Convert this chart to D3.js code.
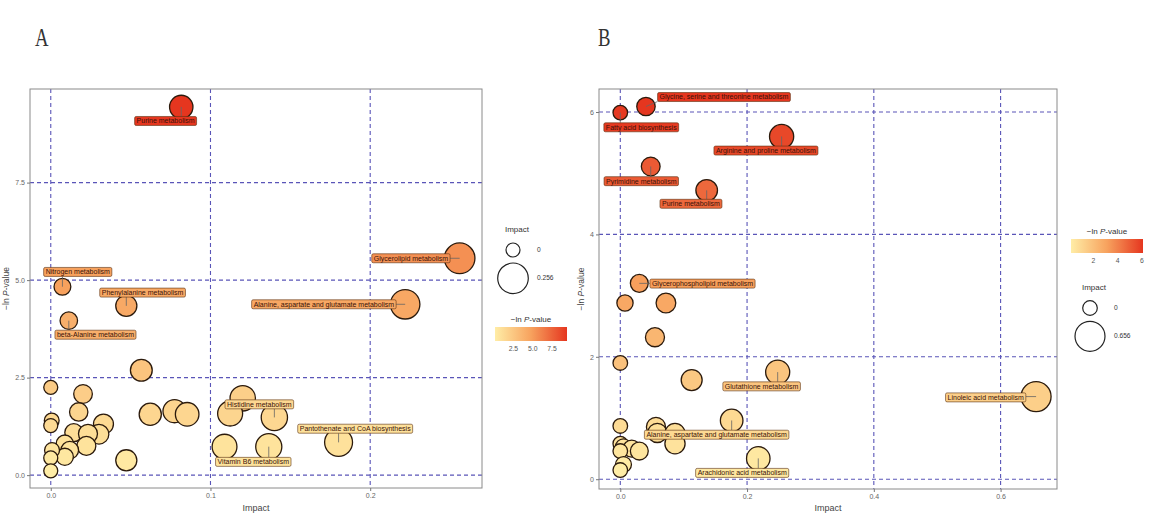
<!DOCTYPE html>
<html>
<head>
<meta charset="utf-8">
<script src="https://cdn.jsdelivr.net/npm/d3@7"></script>
<style>
body { margin:0; background:#fff; }
svg { font-family:"Liberation Sans", Arial, sans-serif; }
</style>
</head>
<body>
<svg width="1153" height="530"></svg>
<script>
// panel A : pathway name ("" = not labelled), impact, -ln P
var namesA = ["Purine metabolism","Nitrogen metabolism","Phenylalanine metabolism","beta-Alanine metabolism",
  "Glycerolipid metabolism","Alanine, aspartate and glutamate metabolism","","","","","","","","","","","","",
  "","","","","","","","","","","","Histidine metabolism","","Vitamin B6 metabolism","Pantothenate and CoA biosynthesis"]
var impactA = [0.0817,0.0073,0.0473,0.0113,0.256,0.2219,0.0567,0,0.0202,0.0175,0.0006,0,0.033,0.0302,0.0144,0.0233,0.0223,0.0088,
  0.0119,0.0088,0.0008,0,0,0.0473,0.0623,0.0775,0.0854,0.1202,0.1123,0.140,0.1088,0.1365,0.1802]
var lnpA = [9.44,4.83,4.34,3.96,5.56,4.38,2.69,2.25,2.08,1.62,1.40,1.27,1.31,1.05,1.09,1.06,0.75,0.81,
  0.64,0.47,0.64,0.44,0.11,0.38,1.56,1.64,1.56,1.97,1.58,1.48,0.73,0.73,0.84]
var xTicksA = [0,0.1,0.2]
var yTicksA = [0,2.5,5,7.5]
var barTicksA = [2.5,5,7.5]

// panel B
var namesB = ["Glycine, serine and threonine metabolism","Fatty acid biosynthesis","Arginine and proline metabolism",
  "Pyrimidine metabolism","Purine metabolism","Glycerophospholipid metabolism","","","","","","Glutathione metabolism",
  "Alanine, aspartate and glutamate metabolism","","","","","","","","","","","","","Arachidonic acid metabolism","Linoleic acid metabolism"]
var impactB = [0.0405,0,0.2545,0.048,0.1363,0.030,0.0074,0.072,0.0547,0,0.1126,0.2483,0.1757,0.0563,0.0584,0.0863,0.0863,
  0,0,0.005,0.018,0.030,0,0.005,0,0.2177,0.656]
var lnpB = [6.09,5.99,5.60,5.11,4.72,3.20,2.88,2.88,2.32,1.90,1.62,1.75,0.96,0.855,0.757,0.747,0.58,
  0.87,0.58,0.53,0.50,0.46,0.46,0.24,0.15,0.34,1.35]
var xTicksB = [0,0.2,0.4,0.6]
var yTicksB = [0,2,4,6]
var barTicksB = [2,4,6]

// where the repelled labels sit (data units)
var labelPosA = {"Purine metabolism":[0.0719,9.08],"Nitrogen metabolism":[0.0169,5.21],"Phenylalanine metabolism":[0.0575,4.68],
  "beta-Alanine metabolism":[0.028,3.60],"Glycerolipid metabolism":[0.2255,5.56],"Alanine, aspartate and glutamate metabolism":[0.171,4.38],
  "Histidine metabolism":[0.1306,1.815],"Vitamin B6 metabolism":[0.1268,0.34],"Pantothenate and CoA biosynthesis":[0.1906,1.19]}
var labelPosB = {"Glycine, serine and threonine metabolism":[0.1636,6.245],"Fatty acid biosynthesis":[0.0331,5.75],
  "Arginine and proline metabolism":[0.2298,5.37],"Pyrimidine metabolism":[0.0331,4.87],"Purine metabolism":[0.1115,4.50],
  "Glycerophospholipid metabolism":[0.1297,3.196],"Glutathione metabolism":[0.223,1.517],
  "Alanine, aspartate and glutamate metabolism":[0.152,0.727],"Arachidonic acid metabolism":[0.1923,0.103],
  "Linoleic acid metabolism":[0.5765,1.337]}

var svg = d3.select("svg")
var defs = svg.append("defs")

var drawPanel = function(p)
{
  var data = p.names.map(function(n,i){ return {name:n, x:p.impact[i], y:p.lnp[i]} })
  var xScale = d3.scaleLinear().domain(p.xDom).range([p.box.left,p.box.right])
  var yScale = d3.scaleLinear().domain(p.yDom).range([p.box.bottom,p.box.top])
  var rScale = d3.scaleSqrt().domain([0,d3.max(p.impact)]).range(p.rRange)
  var cDom = d3.extent(p.lnp)
  var color = d3.scaleLinear()
                .domain([cDom[0],(cDom[0]+cDom[1])/2,cDom[1]])
                .range(["#ffeda6","#f7a25e","#e5361f"])

  var g = svg.append("g")

  // panel letter
  g.append("text").attr("transform","translate("+p.letterX+",46) scale(0.72,1)")
   .attr("font-family","Liberation Serif, serif").attr("font-size",26).attr("fill","#333")
   .text(p.letter)

  // grid
  g.selectAll(".gx").data(p.xTicks).enter().append("line")
   .attr("x1",function(d){return xScale(d)}).attr("x2",function(d){return xScale(d)})
   .attr("y1",p.box.top).attr("y2",p.box.bottom)
   .attr("stroke","#5a55b8").attr("stroke-width",1.1).attr("stroke-dasharray","4,3")
  g.selectAll(".gy").data(p.yTicks).enter().append("line")
   .attr("y1",function(d){return yScale(d)}).attr("y2",function(d){return yScale(d)})
   .attr("x1",p.box.left).attr("x2",p.box.right)
   .attr("stroke","#5a55b8").attr("stroke-width",1.1).attr("stroke-dasharray","4,3")

  g.append("rect").attr("x",p.box.left).attr("y",p.box.top)
   .attr("width",p.box.right-p.box.left).attr("height",p.box.bottom-p.box.top)
   .attr("fill","none").attr("stroke","#8a8a8a").attr("stroke-width",1)

  var xAxis = d3.axisBottom(xScale).tickValues(p.xTicks).tickSize(3).tickPadding(2).tickFormat(d3.format(p.xFmt))
  var yAxis = d3.axisLeft(yScale).tickValues(p.yTicks).tickSize(3).tickPadding(2).tickFormat(d3.format(p.yFmt))
  var ax = g.append("g").attr("transform","translate(0,"+p.box.bottom+")").call(xAxis)
  var ay = g.append("g").attr("transform","translate("+p.box.left+",0)").call(yAxis)
  ;[ax,ay].forEach(function(a){
    a.select(".domain").remove()
    a.selectAll("line").attr("stroke","#777")
    a.selectAll("text").attr("fill","#666").attr("font-size",7).attr("font-family","Liberation Sans, Arial")
  })

  // axis titles
  g.append("text").attr("x",(p.box.left+p.box.right)/2).attr("y",511).attr("text-anchor","middle")
   .attr("font-size",9).attr("fill","#444").text("Impact")
  var yt = g.append("text").attr("transform","translate("+p.yTitleX+","+(p.box.top+p.box.bottom)/2+") rotate(-90)")
   .attr("text-anchor","middle").attr("font-size",8.5).attr("fill","#444")
  yt.append("tspan").text("\u2212ln ")
  yt.append("tspan").attr("font-style","italic").text("P")
  yt.append("tspan").text("-value")

  // points
  g.selectAll(".pt").data(data).enter().append("circle")
   .attr("cx",function(d){return xScale(d.x)}).attr("cy",function(d){return yScale(d.y)})
   .attr("r",function(d){return rScale(d.x)})
   .attr("fill",function(d){return color(d.y)})
   .attr("stroke","#2b1a0c").attr("stroke-width",1.3)

  // labels
  var lab = data.filter(function(d){return d.name!==""})
  var lg = g.append("g")
  lab.forEach(function(d){
    var pos = p.labelPos[d.name]
    var cx = xScale(pos[0]), cy = yScale(pos[1])
    var t = lg.append("text").attr("font-size",7).attr("text-anchor","middle")
              .attr("x",cx).attr("y",cy+2.4).attr("fill","#3a1208").text(d.name)
    var w = t.node().getComputedTextLength()+4, h = 9
    var bx = cx-w/2, by = cy-h/2
    var px = xScale(d.x), py = yScale(d.y)
    var nx = Math.max(bx,Math.min(px,bx+w)), ny = Math.max(by,Math.min(py,by+h))
    if (Math.hypot(nx-px,ny-py) > 2) {
      lg.insert("line","text").attr("x1",nx).attr("y1",ny).attr("x2",px).attr("y2",py)
        .attr("stroke","#666").attr("stroke-width",0.8)
    }
    lg.insert("rect","text").attr("x",bx).attr("y",by).attr("width",w).attr("height",h).attr("rx",1.5)
      .attr("fill",color(d.y)).attr("stroke","#5a3010").attr("stroke-width",0.6)
  })

  // colour bar legend
  var gid = "grad"+p.letter
  var grad = defs.append("linearGradient").attr("id",gid)
  d3.range(0,1.001,0.1).forEach(function(t){
    grad.append("stop").attr("offset",t).attr("stop-color",color(cDom[0]+t*(cDom[1]-cDom[0])))
  })
  var bar = p.bar
  var barScale = d3.scaleLinear().domain(cDom).range([bar.x,bar.x+72])
  var ct = g.append("text").attr("x",bar.x+36).attr("y",bar.y-5).attr("text-anchor","middle")
   .attr("font-size",8).attr("fill","#333")
  ct.append("tspan").text("\u2212ln ")
  ct.append("tspan").attr("font-style","italic").text("P")
  ct.append("tspan").text("-value")
  g.append("rect").attr("x",bar.x).attr("y",bar.y).attr("width",72).attr("height",14).attr("fill","url(#"+gid+")")
  g.selectAll(".bt").data(p.barTicks).enter().append("text")
   .attr("x",function(d){return barScale(d)}).attr("y",bar.y+24).attr("text-anchor","middle")
   .attr("font-size",6.8).attr("fill","#555").text(d3.format(p.barFmt))

  // size legend
  var s = p.size
  g.append("text").attr("x",s.x+4).attr("y",s.y).attr("text-anchor","middle")
   .attr("font-size",8).attr("fill","#333").text("Impact")
  var sizes = [0,d3.max(p.impact)]
  g.selectAll(".sl").data(sizes).enter().append("circle")
   .attr("cx",s.x).attr("cy",function(d,i){return s.y+18+i*(rScale(0)+rScale(sizes[1])+6)})
   .attr("r",function(d){return rScale(d)})
   .attr("fill","none").attr("stroke","#222").attr("stroke-width",1.2)
  g.selectAll(".slt").data(sizes).enter().append("text")
   .attr("x",s.x+24).attr("y",function(d,i){return s.y+20+i*(rScale(0)+rScale(sizes[1])+6)})
   .attr("font-size",6.6).attr("fill","#333").text(function(d){return d===0?"0":d3.format(".3")(d)})
}

drawPanel({letter:"A", letterX:35, names:namesA, impact:impactA, lnp:lnpA,
  xDom:[-0.013,0.27], yDom:[-0.33,9.9], box:{left:30,right:482,top:89,bottom:488},
  rRange:[7,15.3], xTicks:xTicksA, yTicks:yTicksA, xFmt:".1f", yFmt:".1f", yTitleX:9,
  labelPos:labelPosA, bar:{x:495,y:327}, barTicks:barTicksA, barFmt:".1f", size:{x:513,y:232}})

drawPanel({letter:"B", letterX:598, names:namesB, impact:impactB, lnp:lnpB,
  xDom:[-0.0336,0.689], yDom:[-0.16,6.376], box:{left:599,right:1057,top:89,bottom:489},
  rRange:[7.3,15], xTicks:xTicksB, yTicks:yTicksB, xFmt:".1f", yFmt:"d", yTitleX:584,
  labelPos:labelPosB, bar:{x:1071,y:239}, barTicks:barTicksB, barFmt:"d", size:{x:1090,y:290}})
</script>
</body>
</html>
